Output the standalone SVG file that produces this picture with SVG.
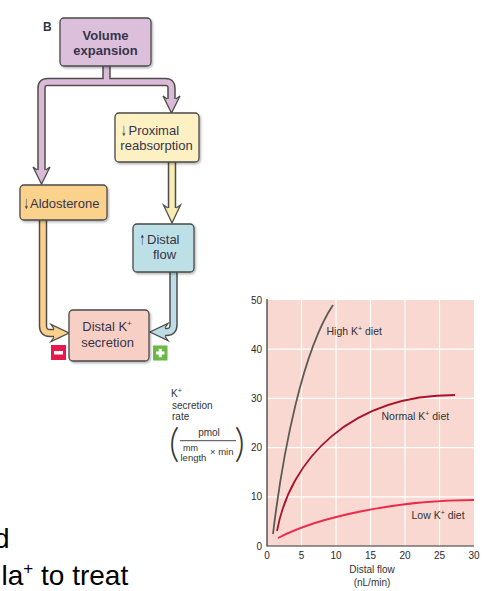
<svg xmlns="http://www.w3.org/2000/svg" width="503" height="591" viewBox="0 0 503 591">
<style>
.box{stroke:#4a4a4a;stroke-width:1.3}
.t{font-family:"Liberation Sans",Arial,sans-serif;font-size:13px;fill:#35354a}
.tb{font-family:"Liberation Sans",Arial,sans-serif;font-size:13px;font-weight:bold;fill:#35354a}
.ar{font-family:"DejaVu Sans",sans-serif;font-size:14px;fill:#35354a}
.out{fill:none;stroke:#4d4d4d;stroke-width:8.5;stroke-linejoin:round}
.ah{fill:none;stroke:#4d4d4d;stroke-width:1.3;stroke-linejoin:miter}
.c{font-family:"Liberation Sans",Arial,sans-serif;font-size:10px;fill:#333}
.tick{font-family:"Liberation Sans",Arial,sans-serif;font-size:10px;fill:#2a2a2a}
.grid{stroke:#fff;stroke-width:1.2}
.big{font-family:"Liberation Sans",Arial,sans-serif;font-size:28px;fill:#000}
</style>
<defs>
<filter id="sh" x="-10%" y="-10%" width="130%" height="130%">
<feDropShadow dx="1.2" dy="1.5" stdDeviation="1" flood-color="#000" flood-opacity="0.3"/>
</filter>
</defs>

<text class="tb" x="43" y="31" style="font-size:12px">B</text>

<g id="connectors">
 <g id="c-purple">
  <path class="out" d="M106.5,64 V82 M41.5,171 V88 Q41.5,82 47.5,82 H165.5 Q171.5,82 171.5,88 V100"/>
  <path fill="none" stroke="#dbbad8" stroke-width="5.5" stroke-linejoin="round" d="M106.5,64 V82 M41.5,171 V88 Q41.5,82 47.5,82 H165.5 Q171.5,82 171.5,88 V100"/>
  <polygon fill="#dbbad8" points="37.25,170 33,167 41.5,184 50,167 45.75,170"/>
  <polyline class="ah" points="37.25,170 33,167 41.5,184 50,167 45.75,170"/>
  <polygon fill="#dbbad8" points="167.25,99 163,96 171.5,113 180,96 175.75,99"/>
  <polyline class="ah" points="167.25,99 163,96 171.5,113 180,96 175.75,99"/>
 </g>
 <g id="c-yellow">
  <path class="out" d="M172,160 V209"/>
  <path fill="none" stroke="#f8ecb2" stroke-width="5.5" d="M172,160 V209"/>
  <polygon fill="#f8ecb2" points="167.75,208 163.5,205 172,223 180.5,205 176.25,208"/>
  <polyline class="ah" points="167.75,208 163.5,205 172,223 180.5,205 176.25,208"/>
 </g>
 <g id="c-orange">
  <path class="out" d="M43,218 V326 Q43,333 50,333 H55"/>
  <path fill="none" stroke="#fbd08a" stroke-width="5.5" d="M43,218 V326 Q43,333 50,333 H55"/>
  <polygon fill="#fbd08a" points="54,328.75 51,324.5 69,333 51,341.5 54,337.25"/>
  <polyline class="ah" points="54,328.75 51,324.5 69,333 51,341.5 54,337.25"/>
 </g>
 <g id="c-blue">
  <path class="out" d="M173.5,270 V325 Q173.5,332 166.5,332 H164"/>
  <path fill="none" stroke="#bcdde6" stroke-width="5.5" d="M173.5,270 V325 Q173.5,332 166.5,332 H164"/>
  <polygon fill="#bcdde6" points="165,327.75 168,323.5 150,332 168,340.5 165,336.25"/>
  <polyline class="ah" points="165,327.75 168,323.5 150,332 168,340.5 165,336.25"/>
 </g>
</g>

<g id="n-volume">
 <rect class="box" filter="url(#sh)" x="60" y="18" width="91" height="48" rx="4" fill="#dcbfda"/>
 <text class="tb" x="105.5" y="39.5" text-anchor="middle">Volume</text>
 <text class="tb" x="105.5" y="54.5" text-anchor="middle">expansion</text>
</g>
<g id="n-proximal">
 <rect class="box" filter="url(#sh)" x="115" y="113" width="84" height="49" rx="4" fill="#fdf0c2"/>
 <text class="ar" text-anchor="middle" transform="translate(124,136) scale(0.45,1)">↓</text>
 <text class="t" x="128.5" y="135">Proximal</text>
 <text class="t" x="156.5" y="150" text-anchor="middle">reabsorption</text>
</g>
<g id="n-aldosterone">
 <rect class="box" filter="url(#sh)" x="20" y="185" width="87" height="35" rx="4" fill="#fbd28c"/>
 <text class="ar" text-anchor="middle" transform="translate(26.5,209) scale(0.45,1)">↓</text>
 <text class="t" x="30" y="208">Aldosterone</text>
</g>
<g id="n-distalflow">
 <rect class="box" filter="url(#sh)" x="133" y="224" width="61" height="48" rx="4" fill="#bddfe6"/>
 <text class="ar" text-anchor="middle" transform="translate(142.5,245) scale(0.45,1)">↑</text>
 <text class="t" x="147" y="244">Distal</text>
 <text class="t" x="164.5" y="259" text-anchor="middle">flow</text>
</g>
<g id="n-distalk">
 <rect class="box" filter="url(#sh)" x="69" y="310" width="80" height="51" rx="4" fill="#f8cfc4"/>
 <text class="t" x="107" y="331" text-anchor="middle">Distal K<tspan font-size="8" dy="-5">+</tspan></text>
 <text class="t" x="107.5" y="346.5" text-anchor="middle">secretion</text>
</g>
<g id="n-minus">
 <rect x="51" y="345" width="15" height="15" fill="#e8184a"/>
 <rect x="54" y="351" width="9" height="3.5" fill="#fff"/>
</g>
<g id="n-plus">
 <rect x="153" y="345.5" width="14.5" height="15" fill="#6ab845"/>
 <rect x="156" y="351.5" width="8.5" height="3" fill="#fff"/>
 <rect x="158.75" y="348.75" width="3" height="8.5" fill="#fff"/>
</g>

<g id="chart">
 <rect x="267" y="300" width="207" height="246" fill="#f9d8d1"/>
 <g class="grid">
  <line x1="301.5" y1="300" x2="301.5" y2="546"/>
  <line x1="336" y1="300" x2="336" y2="546"/>
  <line x1="370.5" y1="300" x2="370.5" y2="546"/>
  <line x1="405" y1="300" x2="405" y2="546"/>
  <line x1="439.5" y1="300" x2="439.5" y2="546"/>
  <line x1="267" y1="496.8" x2="474" y2="496.8"/>
  <line x1="267" y1="447.6" x2="474" y2="447.6"/>
  <line x1="267" y1="398.4" x2="474" y2="398.4"/>
  <line x1="267" y1="349.2" x2="474" y2="349.2"/>
 </g>
 <path d="M267,299 V546 H474" fill="none" stroke="#333" stroke-width="1.2"/>
 <g class="tick" text-anchor="end">
  <text x="262" y="304">50</text>
  <text x="262" y="353">40</text>
  <text x="262" y="402">30</text>
  <text x="262" y="451">20</text>
  <text x="262" y="500">10</text>
  <text x="262" y="549.5">0</text>
 </g>
 <g class="tick" text-anchor="middle">
  <text x="267" y="558.5">0</text>
  <text x="301.5" y="558.5">5</text>
  <text x="336" y="558.5">10</text>
  <text x="370.5" y="558.5">15</text>
  <text x="405" y="558.5">20</text>
  <text x="439.5" y="558.5">25</text>
  <text x="474" y="558.5">30</text>
 </g>
 <text class="c" x="372" y="572.5" text-anchor="middle">Distal flow</text>
 <text class="c" x="372" y="585.5" text-anchor="middle">(nL/min)</text>

 <path d="M273,534 C283,450 303,350 333,305" fill="none" stroke="#5b5b55" stroke-width="1.8"/>
 <path d="M277,531 C290,460 350,395 455,395" fill="none" stroke="#a8142f" stroke-width="1.8"/>
 <path d="M278,538 C320,516 400,500 474,500" fill="none" stroke="#ec2a4c" stroke-width="1.8"/>

 <text class="c" x="326.5" y="335" style="font-size:10.5px">High K<tspan font-size="7" dy="-4">+</tspan><tspan dy="4"> diet</tspan></text>
 <text class="c" x="381.5" y="420" style="font-size:10.5px">Normal K<tspan font-size="7" dy="-4">+</tspan><tspan dy="4"> diet</tspan></text>
 <text class="c" x="411.5" y="518.5" style="font-size:10.5px">Low K<tspan font-size="7" dy="-4">+</tspan><tspan dy="4"> diet</tspan></text>

 <text class="c" x="171" y="397">K<tspan font-size="7" dy="-4">+</tspan></text>
 <text class="c" x="172" y="409">secretion</text>
 <text class="c" x="172" y="420">rate</text>
 <text class="c" x="209" y="435.5" text-anchor="middle">pmol</text>
 <line x1="180" y1="440.7" x2="236" y2="440.7" stroke="#333" stroke-width="0.9"/>
 <text class="c" x="190.5" y="451" text-anchor="middle" style="font-size:9px">mm</text>
 <text class="c" x="180.5" y="460.5" style="font-size:9.5px">length</text>
 <text class="c" x="210" y="455" style="font-size:9.5px">× min</text>
 <text x="169" y="457" style="font-family:Lato,'Liberation Sans',sans-serif;font-size:40px;font-weight:300;fill:#333">(</text>
 <text x="234.5" y="457" style="font-family:Lato,'Liberation Sans',sans-serif;font-size:40px;font-weight:300;fill:#333">)</text>
</g>

<text class="big" x="9.5" y="548" text-anchor="end">d</text>
<text class="big" x="1.5" y="585">la<tspan font-size="17" dy="-11">+</tspan><tspan dy="11"> to treat</tspan></text>
</svg>
